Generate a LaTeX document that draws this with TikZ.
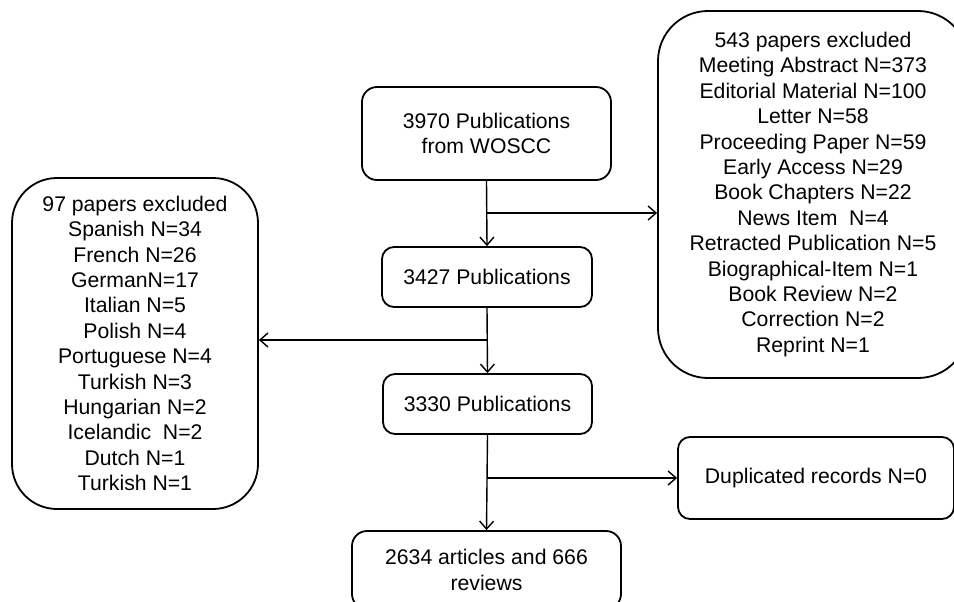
\documentclass[tikz,border=0pt]{standalone}
\usepackage{fontspec}
\setmainfont{Liberation Sans}
\usetikzlibrary{arrows.meta}
\begin{document}
\begin{tikzpicture}[x=1pt,y=-1pt,
  box/.style={draw, line width=1.8pt, rounded corners=#1, align=center,
    font=\fontsize{21.2}{25.4}\selectfont, inner sep=0pt},
  box/.default=12pt,
  conn/.style={line width=1.4pt, -{Straight Barb[length=8pt,width=14pt,line width=1.4pt]}}]
\useasboundingbox (0,0) rectangle (954,602);
\clip (0,0) rectangle (954,602);
\node[box=15pt, minimum width=249pt, minimum height=93pt] (A) at (486.5,133.5) {3970 Publications\\from WOSCC};
\node[box=12pt, minimum width=210pt, minimum height=60pt] (B) at (487,277) {3427 Publications};
\node[box=12pt, minimum width=209pt, minimum height=60pt] (C) at (487.5,404) {3330 Publications};
\node[box=15pt, minimum width=269pt, minimum height=78pt] (D) at (486.5,570) {2634 articles and 666\\reviews};
\node[box=45pt, minimum width=246pt, minimum height=331pt] (L) at (135,343.5) {97 papers excluded\\Spanish N=34\\French N=26\\GermanN=17\\Italian N=5\hspace*{26pt}\\Polish N=4\\Portuguese N=4\\Turkish N=3\\Hungarian N=2\\Icelandic~~N=2\\Dutch N=1\\Turkish N=1};
\node[box=50pt, minimum width=310pt, minimum height=367pt] (R) at (813,194.5) {543 papers excluded\\Meeting Abstract N=373\\Editorial Material N=100\\Letter N=58\\Proceeding Paper N=59\\Early Access N=29\\Book Chapters N=22\\News Item~~N=4\\Retracted Publication N=5\\Biographical-Item N=1\\Book Review N=2\\Correction N=2\\Reprint N=1};
\node[box=12pt, minimum width=276pt, minimum height=82pt] (Dup) at (816,478) {Duplicated records N=0};
\coordinate (j1) at (487,213);
\coordinate (j2) at (487,340);
\coordinate (j3) at (487,478);
\draw[conn] (A.south) -- (B.north);
\draw[conn] (B.south) -- (C.north);
\draw[conn] (C.south) -- (D.north);
\draw[conn] (j1) -- (j1 -| R.west);
\draw[conn] (j2) -- (j2 -| L.east);
\draw[conn] (j3) -- (j3 -| Dup.west);
\end{tikzpicture}
\end{document}
